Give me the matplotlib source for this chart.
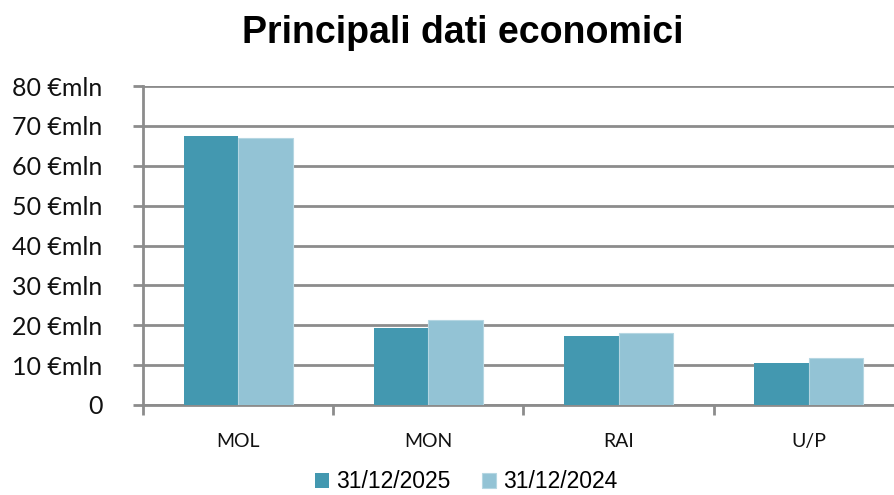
import numpy as np
import matplotlib.pyplot as plt

categories = ['MOL', 'MON', 'RAI', 'U/P']
series_labels = ['31/12/2025', '31/12/2024']
values_2025 = [67.4, 19.2, 17.2, 10.6]
values_2024 = [66.9, 21.2, 18.1, 11.9]
y_ticks = [0, 10, 20, 30, 40, 50, 60, 70, 80]
y_tick_labels = ['0', '10 €mln', '20 €mln', '30 €mln', '40 €mln',
                 '50 €mln', '60 €mln', '70 €mln', '80 €mln']

dark = '#4398b0'
light = '#93c3d5'
grid_col = '#8c8c8c'

fig = plt.figure(figsize=(8.95, 4.95), dpi=100)
ax = fig.add_axes([143 / 895, 90 / 495, 761 / 895, 319 / 495])

x = np.arange(len(categories))
w = 0.287
ax.bar(x - w / 2, values_2025, w, color=dark, label=series_labels[0], zorder=3)
ax.bar(x + w / 2, values_2024, w, color=light, edgecolor='#b5d6e2', linewidth=0.8,
       label=series_labels[1], zorder=3)

ax.set_xlim(-0.5, len(categories) - 0.5)
ax.set_ylim(0, 80)
ax.set_yticks(y_ticks)
ax.set_yticklabels(y_tick_labels, fontfamily='Lato', fontsize=18, color='#111111')
ax.yaxis.grid(True, color=grid_col, linewidth=2, zorder=0)

ax.set_xticks(x)
ax.set_xticklabels(categories, fontfamily='Lato', fontsize=14, color='#111111')
ax.set_xticks(np.arange(len(categories) + 1) - 0.5, minor=True)
ax.tick_params(axis='x', which='major', length=0, pad=20)
ax.tick_params(axis='x', which='minor', length=7, width=2, color=grid_col)
ax.tick_params(axis='y', length=7, width=2, color=grid_col, pad=22)

for s in ['top', 'right']:
    ax.spines[s].set_visible(False)
for s in ['left', 'bottom']:
    ax.spines[s].set_color(grid_col)
    ax.spines[s].set_linewidth(2)

fig.text(463 / 895, 462 / 495, 'Principali dati economici', ha='center', va='center',
         fontsize=27, fontweight='bold', fontfamily='Liberation Sans')

fig.legend(loc='center', bbox_to_anchor=(466 / 895, 13 / 495), ncol=2, frameon=False,
           prop={'family': 'Liberation Sans', 'size': 16.5}, handlelength=0.6,
           handleheight=0.6, handletextpad=0.3, columnspacing=1.4,
           borderpad=0.2)

fig.savefig('out.png', dpi=100)
